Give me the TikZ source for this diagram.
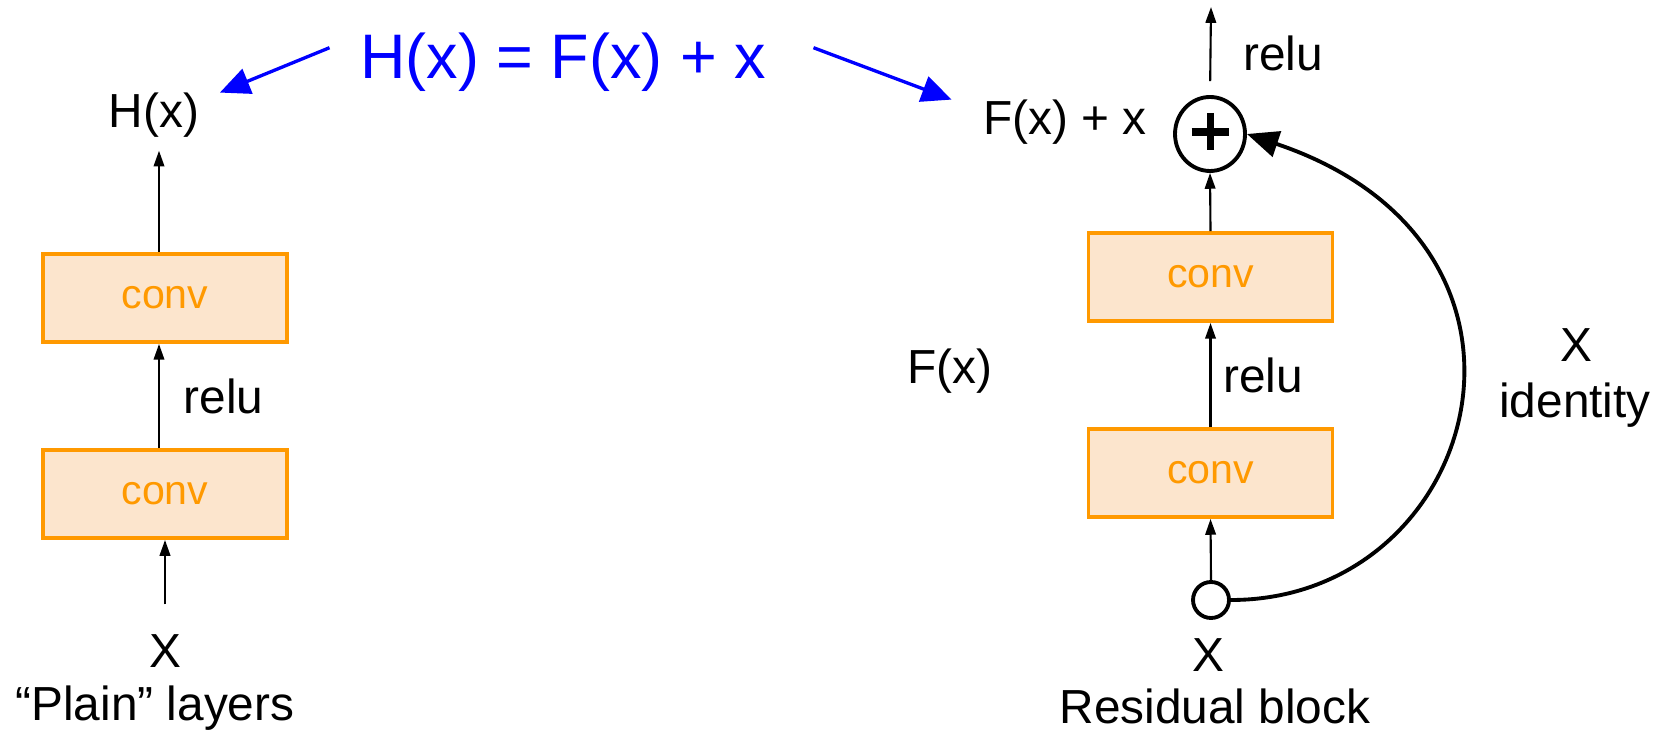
\documentclass[tikz,border=0pt]{standalone}
\usepackage{fontspec}
\setmainfont{Liberation Sans}
\usepackage{tikz}
\usetikzlibrary{arrows.meta,shapes.geometric}
\definecolor{convorange}{RGB}{255,153,0}
\definecolor{convfill}{RGB}{252,229,205}
\tikzset{
  convbox/.style={draw=convorange, fill=convfill, line width=1.1pt, inner sep=0pt,
    minimum width=2.44cm, minimum height=0.88cm, text=convorange,
    font=\fontsize{11.7}{14}\selectfont},
  blarrow/.style={draw=blue, line width=0.95pt, -{Triangle[length=8.5pt,width=7.5pt]}},
  txt/.style={anchor=base}
}
\begin{document}
\begin{tikzpicture}[>={Triangle[length=4.5pt,width=3pt]}, line width=0.6pt,
  font=\fontsize{13.6}{16}\selectfont]
\useasboundingbox (0,0) rectangle (16.58,7.36);

\node[txt, text=blue, font=\fontsize{17.9}{21}\selectfont] (T) at (5.63,6.57) {H(x) = F(x) + x};

\node[txt] (H) at (1.54,6.08) {H(x)};
\node[convbox] (P2) at (1.65,4.38) {conv};
\node[convbox] (P1) at (1.65,2.42) {conv};
\node[txt] (X1) at (1.65,0.69) {X};
\node[txt] (L) at (1.55,0.16) {“Plain” layers};

\node[txt] (FX) at (10.65,6.01) {F(x) + x};
\node[draw, ellipse, line width=1.1pt, inner sep=0pt, minimum width=0.70cm, minimum height=0.74cm] (S) at (12.10,6.02) {};
\coordinate (O) at (12.11,7.29);
\node[convbox] (R2) at (12.105,4.59) {conv};
\node[convbox] (R1) at (12.105,2.63) {conv};
\node[draw, circle, line width=1.1pt, inner sep=0pt, minimum size=0.36cm] (C) at (12.11,1.36) {};
\node[txt] (X2) at (12.08,0.65) {X};
\node[txt] (RB) at (12.15,0.13) {Residual block};
\node[txt] (F) at (9.50,3.53) {F(x)};
\node[txt] (XI) at (15.76,3.74) {X};
\node[txt] (ID) at (15.75,3.18) {identity};

\draw[blarrow] ([xshift=-1.8mm,yshift=1.5mm]T.west) -- ([xshift=0.8mm,yshift=-1.2mm]H.north east);
\draw[blarrow] ([xshift=3.5mm,yshift=1.5mm]T.east) -- ([xshift=-1.9mm,yshift=-1.2mm]FX.north west);

\draw[->] ([xshift=-0.6mm]P2.north) -- ([xshift=-0.6mm]P2.north |- H.south);
\draw[->] ([xshift=-0.6mm]P1.north) -- node[right, xshift=1.2mm] {relu} ([xshift=-0.6mm]P2.south);
\draw[->, shorten <=1.7mm] (X1.north) -- (P1.south);

\draw[->] (C.north) -- (R1.south);
\draw[->] (R1.north) -- node[right] {relu} (R2.south);
\draw[->] (R2.north) -- (S.south);
\draw[->, shorten <=1.4mm] (S.north) -- node[right, pos=.47, xshift=2mm] {relu} (O);
\draw[line width=2pt] ([xshift=-1.85mm,yshift=0.2mm]S.center) -- ([xshift=1.85mm,yshift=0.2mm]S.center);
\draw[line width=2pt] ([yshift=2.1mm]S.center) -- ([yshift=-1.6mm]S.center);
\draw[line width=1.1pt, -{Triangle[length=9pt,width=7.5pt]}] (C.east) .. controls (14.8,1.36) and (15.8,4.9) .. (S.east);
\end{tikzpicture}
\end{document}
